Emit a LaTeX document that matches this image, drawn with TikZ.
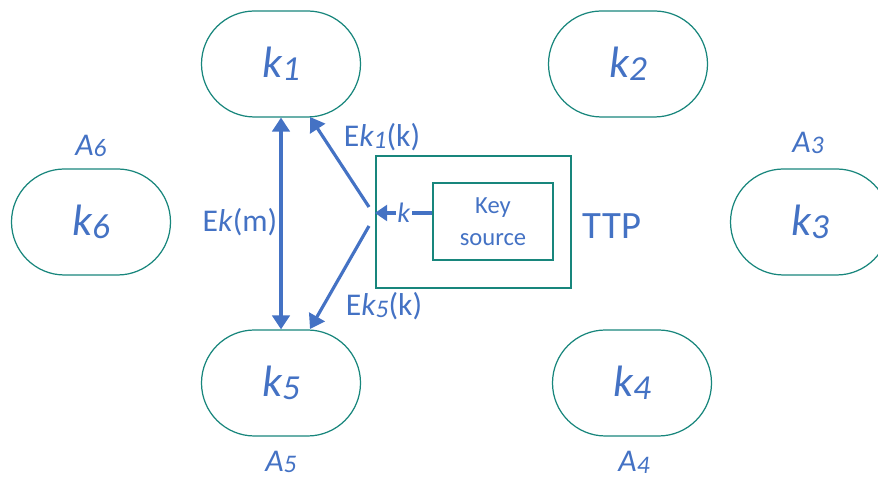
\documentclass[tikz,border=0pt]{standalone}
\usepackage{fontspec}
\setmainfont{Carlito}
\usetikzlibrary{shapes.misc,arrows.meta}

\definecolor{tealline}{RGB}{24,134,124}
\definecolor{bluetext}{RGB}{68,114,196}

\newcommand{\lowsub}[1]{\raisebox{-0.12ex}{\scalebox{0.8}{#1}}}

\begin{document}
\begin{tikzpicture}[
    party/.style={rounded rectangle, draw=tealline, line width=0.7pt,
        minimum width=3.18cm, minimum height=2.12cm, inner sep=0pt,
        text=bluetext, font=\fontsize{25}{29}\selectfont},
    alabel/.style={text=bluetext, font=\fontsize{18}{21}\selectfont\itshape},
    elabel/.style={text=bluetext, font=\fontsize{18}{21}\selectfont},
    msg/.style={draw=bluetext, line width=1.8pt,
        -{Triangle[length=8pt,width=10pt]}},
]
\useasboundingbox (0,0) rectangle (17.56,9.54);
%\draw[step=1cm,gray,very thin] (0,0) grid (17.56,9.54); %background grid

% parties
\node[party] (k1) at (5.62,8.26) {\textit{k\lowsub{1}}};
\node[party] (k2) at (12.56,8.26) {\textit{k\lowsub{2}}};
\node[party] (k3) at (16.20,5.10) {\textit{k\lowsub{3}}};
\node[party] (k4) at (12.64,1.88) {\textit{k\lowsub{4}}};
\node[party] (k5) at (5.62,1.88) {\textit{k\lowsub{5}}};
\node[party] (k6) at (1.82,5.10) {\textit{k\lowsub{6}}};

\node[alabel] (a6) at (1.82,6.62) {A\lowsub{6}};
\node[alabel] (a3) at (16.16,6.68) {A\lowsub{3}};
\node[alabel] (a5) at (5.62,0.30) {A\lowsub{5}};
\node[alabel] (a4) at (12.68,0.30) {A\lowsub{4}};

% trusted third party
\node[draw=tealline, line width=1.3pt, minimum width=3.90cm, minimum height=2.64cm,
      inner sep=0pt] (ttp) at (9.47,5.10) {};
\node[draw=tealline, line width=0.6pt, minimum width=2.40cm, minimum height=1.54cm,
      inner sep=0pt, align=center, text=bluetext, font=\fontsize{14}{18}\selectfont]
      (keysrc) at (9.86,5.11) {Key\\source};
\node[text=bluetext, font=\fontsize{22}{26}\selectfont] (ttplabel) at (12.24,5.02) {TTP};

\coordinate (kout) at (ttp.west |- 0,5.28);
\coordinate (split1) at (7.38,5.40);
\coordinate (split5) at (7.38,5.02);
\coordinate (k1end) at (6.20,7.20);
\coordinate (k5end) at (6.20,2.96);

% key distribution
\draw[draw=bluetext, line width=1.8pt, -{Triangle[length=7pt,width=9pt]}]
    (keysrc.west |- kout) -- node[fill=white, inner sep=1pt, text=bluetext,
    font=\fontsize{16}{19}\selectfont\itshape] (klabel) {k} (kout);
\draw[msg] (split1) -- (k1end);
\draw[msg] (split5) -- (k5end);
\draw[msg, {Triangle[length=8pt,width=10pt]}-{Triangle[length=8pt,width=10pt]}]
    (k5.north) -- (k1.south);

\node[elabel] (ek1) at (7.64,6.80) {E\textit{k\lowsub{1}}(k)};
\node[elabel] (ek5) at (7.68,3.42) {E\textit{k\lowsub{5}}(k)};
\node[elabel] (ekm) at (4.80,5.10) {E\textit{k}(m)};

\end{tikzpicture}
\end{document}
